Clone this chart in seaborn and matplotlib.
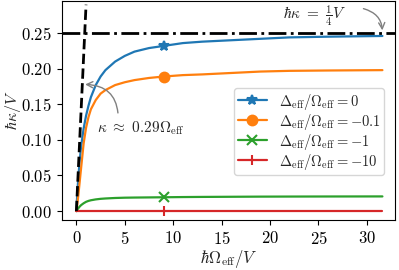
import numpy as np
import pandas as pd
import matplotlib
matplotlib.use('Agg')
import matplotlib.pyplot as plt
import seaborn as sns

# ── data ────────────────────────────────────────────────────
omega = [0, 0.1, 0.2, 0.35, 0.5, 0.75, 1, 1.25, 1.5, 2, 2.5, 3, 4, 5, 6,
         7.5, 9, 11, 13, 16, 19, 22, 26, 31.6]

kappa_d0 = [0, 0.026, 0.047, 0.072, 0.092, 0.116, 0.134, 0.148, 0.160, 0.177,
            0.189, 0.198, 0.210, 0.218, 0.224, 0.229, 0.232, 0.236, 0.238,
            0.240, 0.242, 0.244, 0.245, 0.246]
kappa_d01 = [0, 0.010, 0.022, 0.042, 0.062, 0.095, 0.117, 0.132, 0.143, 0.156,
             0.165, 0.170, 0.177, 0.181, 0.184, 0.187, 0.189, 0.191, 0.192,
             0.194, 0.196, 0.197, 0.1975, 0.198]
kappa_d1 = [0, 0.002, 0.004, 0.0065, 0.0085, 0.011, 0.013, 0.0143, 0.0152,
            0.0164, 0.0172, 0.0177, 0.0184, 0.0188, 0.019, 0.0192, 0.0194,
            0.0197, 0.0199, 0.0201, 0.0203, 0.0204, 0.0205, 0.0206]
kappa_d10 = [0.0] * len(omega)

series_labels = [r'$\Delta_{\rm eff}/\Omega_{\rm eff} = 0$',
                 r'$\Delta_{\rm eff}/\Omega_{\rm eff} = -0.1$',
                 r'$\Delta_{\rm eff}/\Omega_{\rm eff} = -1$',
                 r'$\Delta_{\rm eff}/\Omega_{\rm eff} = -10$']
series_markers = ['*', 'o', 'x', '|']
series_colors = ['C0', 'C1', 'C2', 'C3']
marker_at = 9  # omega value where the marker sits

# tangent line kappa ~ 0.29 Omega and the V/4 limit
slope_x = [0, 1.0]
slope_y = [0, 0.29]
limit_y = 0.25


# ── style ───────────────────────────────────────────────────
sns.set_style('ticks')
plt.rcParams['font.family'] = ['serif']
plt.rcParams['font.serif'] = ['cmr10', 'DejaVu Serif']
plt.rcParams['mathtext.fontset'] = 'cm'
plt.rcParams['axes.formatter.use_mathtext'] = True
plt.rcParams['font.size'] = 12
plt.rcParams['axes.edgecolor'] = 'black'
plt.rcParams['xtick.color'] = 'black'
plt.rcParams['ytick.color'] = 'black'


# ── plot ────────────────────────────────────────────────────
fig = plt.figure(figsize=(3.99, 2.70), dpi=100)
ax = fig.add_subplot(111)
fig.subplots_adjust(left=0.155, right=0.99, top=0.996, bottom=0.185)

df = pd.DataFrame({'omega': omega})
mark_idx = [omega.index(marker_at)]
for ys, lab, mk, col in zip([kappa_d0, kappa_d01, kappa_d1, kappa_d10],
                            series_labels, series_markers, series_colors):
    df['k'] = ys
    sns.lineplot(data=df, x='omega', y='k', ax=ax, color=col, label=lab,
                 marker=mk, markevery=mark_idx, markersize=7,
                 markeredgecolor=col, markeredgewidth=1.5, linewidth=1.6,
                 sort=False, estimator=None)

sns.lineplot(x=slope_x, y=slope_y, ax=ax, color='black', linestyle='--',
             linewidth=2, legend=False, zorder=5)
ax.axhline(limit_y, color='black', linestyle='-.', linewidth=2)

ax.annotate(r'$\kappa \ \approx\ 0.29\Omega_{\rm eff}$', xy=(0.62, 0.178),
            xytext=(2.15, 0.117), ha='left', va='center', fontsize=11,
            arrowprops=dict(arrowstyle='->', color='gray', lw=1,
                            connectionstyle='angle3,angleA=90,angleB=0',
                            relpos=(0.24, 1.0)))
ax.annotate(r'$\hbar\kappa\ =\ \frac{1}{4}V$', xy=(31.6, 0.25),
            xytext=(24.6, 0.275), ha='center', va='center', fontsize=11,
            arrowprops=dict(arrowstyle='->', color='gray', lw=1,
                            connectionstyle='angle3,angleA=0,angleB=90',
                            relpos=(1.0, 0.85), shrinkA=10))

ax.set_xlim(-1.5, 32.9)
ax.set_ylim(-0.0126, 0.295)
ax.set_xticks([0, 5, 10, 15, 20, 25, 30])
ax.set_yticks([0, 0.05, 0.10, 0.15, 0.20, 0.25])
ax.set_xlabel(r'$\hbar\Omega_{\rm eff}/V$', fontsize=12, labelpad=1)
ax.set_ylabel(r'$\hbar\kappa/V$', fontsize=11.5)
ax.yaxis.set_label_coords(-0.118, 0.5)

ax.legend(loc='lower right', bbox_to_anchor=(0.967, 0.205), borderaxespad=0,
          fontsize=10.5, framealpha=0.8, labelspacing=0.0, borderpad=0.25,
          handlelength=2.0)
for s in ax.spines.values():
    s.set_visible(True)

fig.savefig('out.png', dpi=100)
